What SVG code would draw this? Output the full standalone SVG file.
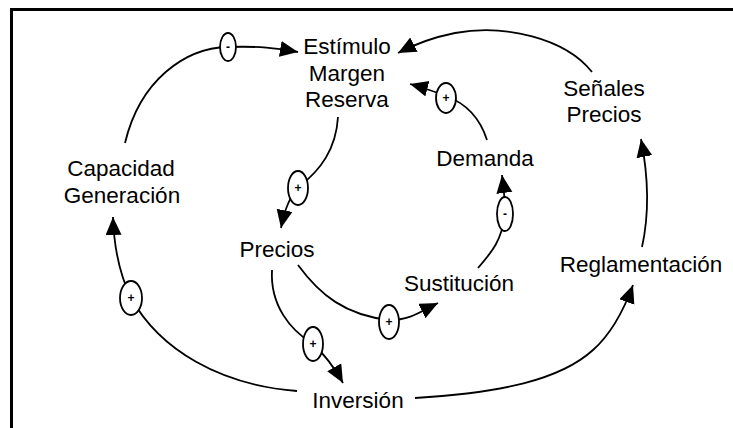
<svg xmlns="http://www.w3.org/2000/svg" width="733" height="428" viewBox="0 0 733 428">
<style>
.lbl{font-family:"Liberation Sans",Arial,sans-serif;font-size:22.5px;fill:#000;text-anchor:middle}
.sg{font-family:"Liberation Sans",Arial,sans-serif;font-size:12px;fill:#000;text-anchor:middle;font-weight:bold}
.c{fill:none;stroke:#000;stroke-width:1.8}
.pol{fill:#fff;stroke:#000;stroke-width:1.8}
</style>
<defs>
<marker id="ah" markerUnits="userSpaceOnUse" markerWidth="20" markerHeight="18" refX="18" refY="8" orient="auto">
<path d="M0,0 L18,8 L0,16 z" fill="#000"/>
</marker>
</defs>
<path d="M11.5,428 V9.5 H733" fill="none" stroke="#000" stroke-width="3"/>
<g id="connectors">
<path class="c" d="M125,143 C140,80 185,48 228,47 C260,46 275,48 298,52" marker-end="url(#ah)"/>
<path class="c" d="M592,72 C565,38 505,24 455,33 C430,38 415,44 398,53" marker-end="url(#ah)"/>
<path class="c" d="M338,117 C336,150 320,170 300,186 C290,196 285,208 281,228" marker-end="url(#ah)"/>
<path class="c" d="M487,140 C480,118 465,103 446,96 C435,92 425,88 410,84" marker-end="url(#ah)"/>
<path class="c" d="M478,268 C492,252 502,240 505,214 C505,200 504,190 502,175" marker-end="url(#ah)"/>
<path class="c" d="M297,391 C220,385 160,350 131,298 C120,275 114,250 113,217" marker-end="url(#ah)"/>
<path class="c" d="M272,270 C270,305 290,330 313,344 C325,355 333,365 343,383" marker-end="url(#ah)"/>
<path class="c" d="M298,265 C320,295 345,315 389,320 C410,320 420,312 438,303" marker-end="url(#ah)"/>
<path class="c" d="M415,398 C500,393 560,380 593,350 C610,335 622,315 633,285" marker-end="url(#ah)"/>
<path class="c" d="M642,247 C648,220 650,185 641,139" marker-end="url(#ah)"/>
<g id="polarities">
<ellipse class="pol" cx="228" cy="47" rx="8" ry="14"/><text class="sg" x="228" y="51">-</text>
<ellipse class="pol" cx="298" cy="188" rx="10" ry="17"/><text class="sg" x="298" y="192">+</text>
<ellipse class="pol" cx="446" cy="98" rx="10" ry="15"/><text class="sg" x="446" y="102">+</text>
<ellipse class="pol" cx="505" cy="214" rx="8" ry="17"/><text class="sg" x="505" y="218">-</text>
<ellipse class="pol" cx="131" cy="298" rx="11" ry="17"/><text class="sg" x="131" y="302">+</text>
<ellipse class="pol" cx="313" cy="344" rx="10" ry="17"/><text class="sg" x="313" y="348">+</text>
<ellipse class="pol" cx="389" cy="322" rx="10" ry="17"/><text class="sg" x="389" y="326">+</text>
</g>
</g>
<g id="estimulo"><text class="lbl" x="347" y="54">Estímulo</text><text class="lbl" x="347" y="81">Margen</text><text class="lbl" x="347" y="107">Reserva</text></g>
<g id="capacidad"><text class="lbl" x="121" y="176">Capacidad</text><text class="lbl" x="122" y="203">Generación</text></g>
<g id="precios"><text class="lbl" x="277" y="257">Precios</text></g>
<g id="inversion"><text class="lbl" x="358" y="408">Inversión</text></g>
<g id="sustitucion"><text class="lbl" x="459" y="291">Sustitución</text></g>
<g id="reglamentacion"><text class="lbl" x="641" y="272">Reglamentación</text></g>
<g id="demanda"><text class="lbl" x="485" y="166">Demanda</text></g>
<g id="senales"><text class="lbl" x="604" y="96">Señales</text><text class="lbl" x="604" y="122">Precios</text></g>
</svg>
